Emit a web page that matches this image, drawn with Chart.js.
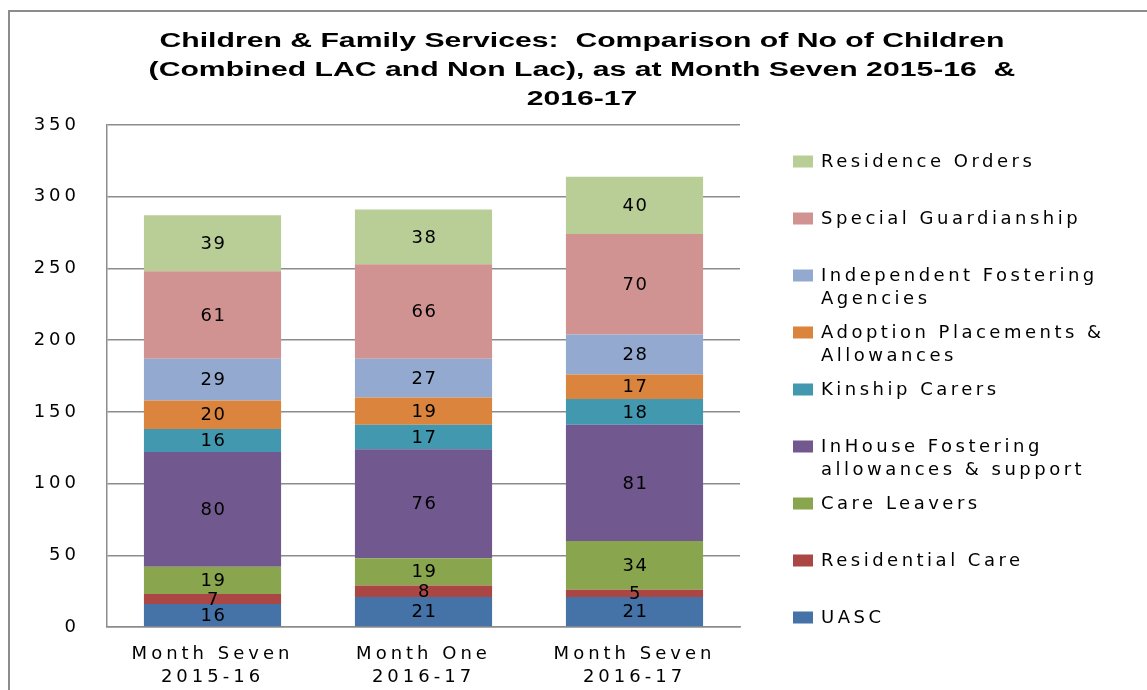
<!DOCTYPE html>
<html>
<head>
<meta charset="utf-8">
<script src="https://cdn.jsdelivr.net/npm/chart.js@4.4.0/dist/chart.umd.min.js"></script>
<style>
    html, body { margin: 0; padding: 0; background: #fff; }
    #wrap { width: 1147px; height: 690px; position: relative; }
</style>
</head>
<body>
<div id="wrap"><canvas id="chart-1"></canvas></div>
<script>
var categories = [['Month Seven', '2015-16'], ['Month One', '2016-17'], ['Month Seven', '2016-17']];
var seriesNames = [
    ['UASC'],
    ['Residential Care'],
    ['Care Leavers'],
    ['InHouse Fostering', 'allowances & support'],
    ['Kinship Carers'],
    ['Adoption Placements &', 'Allowances'],
    ['Independent Fostering', 'Agencies'],
    ['Special Guardianship'],
    ['Residence Orders']
];
var uasc = [16, 21, 21];
var residentialCare = [7, 8, 5];
var careLeavers = [19, 19, 34];
var inHouseFostering = [80, 76, 81];
var kinshipCarers = [16, 17, 18];
var adoptionPlacements = [20, 19, 17];
var independentFostering = [29, 27, 28];
var specialGuardianship = [61, 66, 70];
var residenceOrders = [39, 38, 40];
var yMax = 350;
var yStep = 50;
var titleLines = [
    'Children & Family Services:  Comparison of No of Children',
    '(Combined LAC and Non Lac), as at Month Seven 2015-16  &',
    '2016-17'
];

var seriesValues = [uasc, residentialCare, careLeavers, inHouseFostering, kinshipCarers,
    adoptionPlacements, independentFostering, specialGuardianship, residenceOrders];
var colors = ['#4572A7', '#AA4643', '#89A54E', '#71588F', '#4198AF',
    '#DB843D', '#93A9CF', '#D19392', '#B9CD96'];

var textFont = '"DejaVu Sans", Verdana, sans-serif';

// title, legend, value labels and the outer frame
var extrasPlugin = {
    id: 'extras',
    beforeUpdate: function (chart) {
        chart.ctx.letterSpacing = '4px';
    },
    beforeDraw: function (chart) {
        var ctx = chart.ctx;
        ctx.letterSpacing = '4px';
        ctx.save();
        ctx.strokeStyle = '#8c8c8c';
        ctx.lineWidth = 2;
        ctx.beginPath();
        ctx.moveTo(9, 700);
        ctx.lineTo(9, 11);
        ctx.lineTo(1160, 11);
        ctx.stroke();
        ctx.restore();
    },
    afterDatasetsDraw: function (chart) {
        var ctx = chart.ctx;
        ctx.save();
        ctx.letterSpacing = '1.5px';
        ctx.font = '18px ' + textFont;
        ctx.fillStyle = '#000';
        ctx.textAlign = 'center';
        ctx.textBaseline = 'middle';
        chart.data.datasets.forEach(function (ds, i) {
            chart.getDatasetMeta(i).data.forEach(function (bar, j) {
                ctx.fillText(String(ds.data[j]), bar.x + 1, (bar.y + bar.base) / 2 + 1);
            });
        });
        ctx.restore();
    },
    afterDraw: function (chart) {
        var ctx = chart.ctx;
        var area = chart.chartArea;
        ctx.save();
        // title
        ctx.letterSpacing = '0px';
        ctx.font = 'bold 20px "Liberation Sans", Arial, sans-serif';
        ctx.fillStyle = '#000';
        ctx.textAlign = 'center';
        ctx.textBaseline = 'middle';
        var sx = 845 / ctx.measureText(titleLines[0]).width;
        titleLines.forEach(function (line, k) {
            ctx.save();
            ctx.translate(582, 41 + k * 29);
            ctx.scale(sx, 1);
            ctx.fillText(line, 0, 0);
            ctx.restore();
        });
        // legend, last series on top
        ctx.letterSpacing = '3.5px';
        ctx.font = '18px ' + textFont;
        ctx.textAlign = 'left';
        var n = chart.data.datasets.length;
        for (var k = 0; k < n; k++) {
            var i = n - 1 - k;
            var y = area.top + 36.5 + k * 57;
            ctx.fillStyle = colors[i];
            ctx.fillRect(area.right + 53, y - 6, 20, 12);
            ctx.fillStyle = '#000';
            seriesNames[i].forEach(function (line, l) {
                ctx.fillText(line, area.right + 81, y + 1 + l * 22.5);
            });
        }
        ctx.restore();
    }
};

drawChart();
function drawChart() {
    var ctx = document.getElementById('chart-1');
    var datasets = seriesValues.map(function (vals, i) {
        return {
            label: seriesNames[i].join(' '),
            data: vals,
            backgroundColor: colors[i],
            borderWidth: 0,
            barPercentage: 0.65,
            categoryPercentage: 1.0
        };
    });

    new Chart(ctx, {
        type: 'bar',
        data: {
            labels: categories,
            datasets: datasets
        },
        options: {
            responsive: true,
            maintainAspectRatio: false,
            animation: false,
            layout: {
                padding: { top: 125, left: 33, right: 407, bottom: 4 }
            },
            plugins: {
                legend: { display: false },
                title: { display: false },
                tooltip: { enabled: false }
            },
            scales: {
                x: {
                    stacked: true,
                    grid: { display: false, drawTicks: false },
                    border: { color: '#8c8c8c', width: 1.5 },
                    ticks: {
                        color: '#000',
                        padding: 16,
                        font: { family: textFont, size: 18, lineHeight: 1.28 }
                    },
                    afterFit: function (scale) { scale.height = 59; }
                },
                y: {
                    stacked: true,
                    min: 0,
                    max: yMax,
                    grid: { color: '#8c8c8c', lineWidth: 1.5, drawTicks: false },
                    border: { color: '#8c8c8c', width: 1.5 },
                    ticks: {
                        stepSize: yStep,
                        color: '#000',
                        padding: 27,
                        font: { family: textFont, size: 18 }
                    },
                    afterFit: function (scale) { scale.width = 74; }
                }
            }
        },
        plugins: [extrasPlugin]
    });
}
</script>
</body>
</html>
